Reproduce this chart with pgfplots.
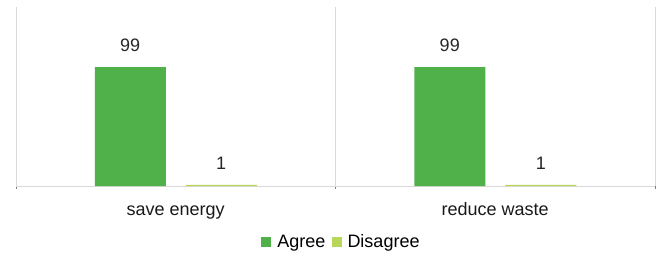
\documentclass[border=0pt]{standalone}
\usepackage{fontspec}
\setmainfont{Liberation Sans}
\usepackage{pgfplots}
\pgfplotsset{compat=1.18}
\definecolor{agree}{RGB}{80,176,74}
\definecolor{disagree}{RGB}{183,214,90}
\definecolor{gridc}{RGB}{217,217,217}
\begin{document}
\begin{tikzpicture}
\useasboundingbox (-16bp,-70bp) rectangle (643bp,186bp);
\begin{axis}[
  at={(0,0)}, anchor=south west,
  scale only axis, width=639bp, height=179bp,
  xmin=-0.5, xmax=1.5, ymin=0, ymax=149,
  axis x line=bottom, axis y line=none,
  x axis line style={draw=gridc, line width=1pt, -},
  xtick={0,1}, xticklabels={save energy, reduce waste},
  major tick length=0pt,
  minor xtick={-0.5,0.5,1.5},
  xminorgrids, minor grid style={draw=gridc, line width=1pt},
  x tick label style={font=\fontsize{18bp}{20bp}\selectfont, anchor=base, yshift=-29bp, text=black!90},
  /pgf/number format/assume math mode=true,
  ybar, bar width=71bp,
  nodes near coords,
  every node near coord/.append style={font=\fontsize{18bp}{20bp}\selectfont, anchor=south, yshift=12bp, text=black!85},
  legend style={at={(axis description cs:0.5,0)}, anchor=center, yshift=-56bp, xshift=6bp, draw=none,
    font=\fontsize{18bp}{20bp}\selectfont, column sep=4bp, inner sep=0pt,
    nodes={inner xsep=2bp}},
  legend columns=-1,
  legend image code/.code={\fill[#1] (0bp,-5bp) rectangle (10bp,5bp);},
]
\addplot[fill=agree, draw=none, bar shift=-45.5bp] coordinates {(0,99) (1,99)};
\addplot[fill=disagree, draw=none, bar shift=45.5bp] coordinates {(0,1) (1,1)};
\legend{Agree, Disagree}
\end{axis}
\end{tikzpicture}
\end{document}
